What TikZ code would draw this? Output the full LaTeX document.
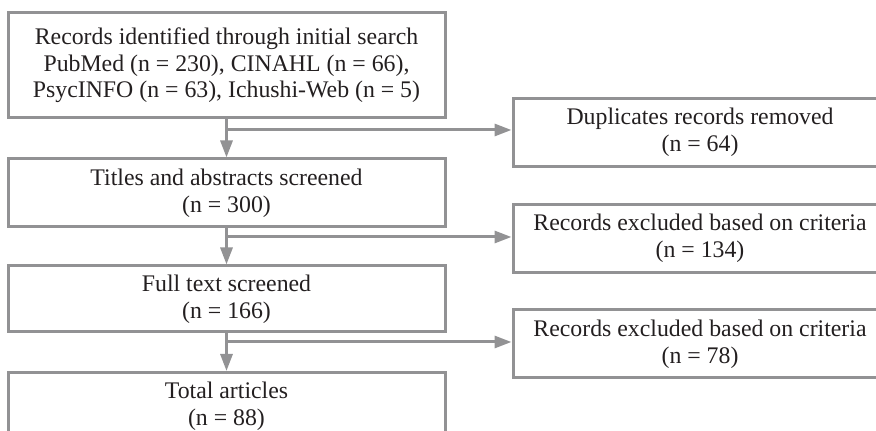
\documentclass[tikz,border=0pt]{standalone}
\usepackage{fontspec}
\setmainfont{Liberation Serif}
\usetikzlibrary{arrows.meta}
\definecolor{linegray}{RGB}{146,146,148}
\definecolor{textgray}{RGB}{35,31,32}
\begin{document}
\begin{tikzpicture}[x=0.5pt,y=-0.5pt,>={Triangle[length=8.5pt,width=6pt]},
	box/.style={draw=linegray,line width=1.5pt,align=center,inner sep=0pt,text=textgray,
		font=\fontsize{11.9}{13.3}\selectfont,minimum width=218.5pt},
	sidebox/.style={box,minimum width=187pt,minimum height=34pt},
	link/.style={draw=linegray,line width=1.5pt,->}]
	\useasboundingbox (0,0) rectangle (876,431);
	\clip (0,0) rectangle (876,431);
	% left column
	\node[box,minimum height=52.5pt] (search) at (226.5,65.5) {Records identified through initial search\\PubMed (n = 230), CINAHL (n = 66),\\PsycINFO (n = 63), Ichushi-Web (n = 5)};
	\node[box,minimum height=34pt] (titles) at (226.5,193) {Titles and abstracts screened\\(n = 300)};
	\node[box,minimum height=33pt] (fulltext) at (226.5,299) {Full text screened\\(n = 166)};
	\node[box,minimum height=34pt,anchor=north] (total) at (226.5,371) {Total articles\\(n = 88)};
	% right column
	\node[sidebox] (dup) at (700,132.5) {Duplicates records removed\\(n = 64)};
	\node[sidebox] (excl1) at (700,238.5) {Records excluded based on criteria\\(n = 134)};
	\node[sidebox] (excl2) at (700,344) {Records excluded based on criteria\\(n = 78)};
	% connectors
	\coordinate (j1) at (226.5,130);
	\coordinate (j2) at (226.5,237);
	\coordinate (j3) at (226.5,342);
	\draw[link] (search) -- (titles);
	\draw[link] (titles) -- (fulltext);
	\draw[link] (fulltext) -- (total);
	\draw[link] (j1) -- (j1 -| dup.west);
	\draw[link] (j2) -- (j2 -| excl1.west);
	\draw[link] (j3) -- (j3 -| excl2.west);
\end{tikzpicture}
\end{document}
